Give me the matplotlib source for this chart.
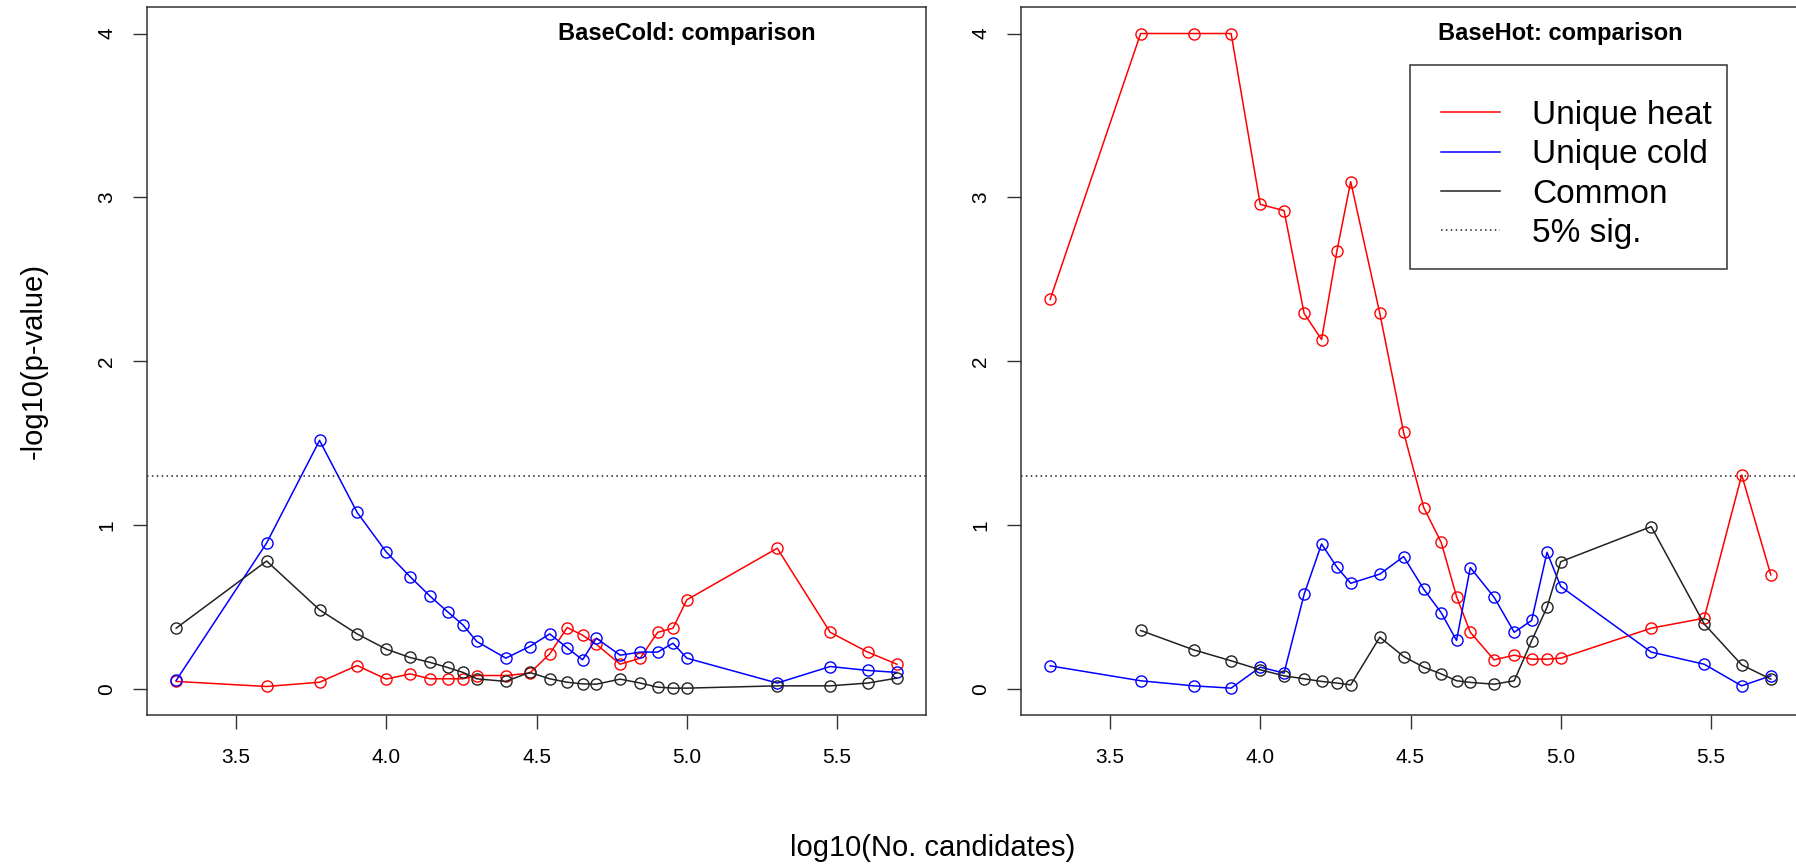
import numpy as np
import matplotlib
matplotlib.use("Agg")
import matplotlib.pyplot as plt
from matplotlib.patches import Rectangle

plt.rcParams['font.family'] = ['Liberation Sans', 'DejaVu Sans']

# number of candidates (x axis is log10 of these)
candidates = [2000, 4000, 6000, 8000, 10000, 12000, 14000, 16000, 18000, 20000,
              25000, 30000, 35000, 40000, 45000, 50000, 60000, 70000, 80000, 90000,
              100000, 200000, 300000, 400000, 500000]

# BaseCold panel, -log10(p)
cold_heat = [0.045, 0.014, 0.04, 0.142, 0.059, 0.091, 0.061, 0.061, 0.061, 0.081,
             0.081, 0.095, 0.213, 0.374, 0.327, 0.272, 0.15, 0.187, 0.345, 0.37,
             0.543, 0.858, 0.345, 0.224, 0.15]
cold_cold = [0.051, 0.89, 1.516, 1.077, 0.835, 0.685, 0.565, 0.47, 0.39, 0.289,
             0.187, 0.258, 0.335, 0.25, 0.177, 0.309, 0.205, 0.224, 0.224, 0.278,
             0.187, 0.035, 0.136, 0.112, 0.10]
cold_common = [0.37, 0.78, 0.482, 0.335, 0.242, 0.191, 0.161, 0.13, 0.10, 0.061,
               0.045, 0.10, 0.061, 0.04, 0.03, 0.028, 0.059, 0.035, 0.01, 0.004,
               0.004, 0.018, 0.018, 0.035, 0.065]

# BaseHot panel
hot_heat = [2.377, 4.0, 4.0, 4.0, 2.957, 2.919, 2.291, 2.132, 2.674, 3.096,
            2.291, 1.565, 1.106, 0.894, 0.563, 0.345, 0.177, 0.205, 0.181, 0.181,
            0.187, 0.37, 0.431, 1.305, 0.695]
hot_cold = [0.14, 0.049, 0.018, 0.004, 0.132, 0.096, 0.577, 0.884, 0.742, 0.644,
            0.70, 0.807, 0.608, 0.465, 0.295, 0.74, 0.559, 0.345, 0.417, 0.833,
            0.624, 0.224, 0.15, 0.018, 0.079]
hot_common = [np.nan, 0.356, 0.238, 0.171, 0.116, 0.079, 0.061, 0.045, 0.035, 0.024,
              0.315, 0.197, 0.132, 0.091, 0.049, 0.039, 0.028, 0.049, 0.293, 0.498,
              0.776, 0.99, 0.396, 0.146, 0.059]

panels = [("BaseCold: comparison", cold_heat, cold_cold, cold_common),
          ("BaseHot: comparison", hot_heat, hot_cold, hot_common)]
sig = -np.log10(0.05)

x = np.log10(candidates)

fig = plt.figure(figsize=(17.96, 8.66), dpi=100)
W, H = 1796, 866
lefts = [147, 1021]
for i, (title, heat, cold, common) in enumerate(panels):
    ax = fig.add_axes([lefts[i] / W, 1 - 715 / H, 779 / W, 707.7 / H])
    kw = dict(marker='o', markersize=8, markerfacecolor='none', markeredgewidth=1.0, lw=1.1)
    ax.plot(x, heat, color='red', label='Unique heat', **kw)
    ax.plot(x, cold, color='blue', label='Unique cold', **kw)
    ax.plot(x, common, color='#222222', label='Common', **kw)
    ax.axhline(sig, color='#222222', lw=1.1, ls=(0, (1, 2.2)), label='5% sig.')
    ax.set_xlim(3.204, 5.796)
    ax.set_ylim(-0.16, 4.16)
    ax.set_xticks([3.5, 4.0, 4.5, 5.0, 5.5])
    ax.set_xticklabels(['3.5', '4.0', '4.5', '5.0', '5.5'])
    ax.set_yticks([0, 1, 2, 3, 4])
    ax.tick_params(axis='both', length=10, width=1, color='#333333', labelsize=15)
    ax.tick_params(axis='x', pad=14)
    ax.tick_params(axis='y', pad=12)
    for lab in ax.get_yticklabels():
        lab.set_rotation(90)
        lab.set_va('center')
    for s in ax.spines.values():
        s.set_color('#333333')
        s.set_linewidth(1.1)
    ax.text(5.0, 4.0, title, ha='center', va='center', fontsize=17, fontweight='bold')
    if i == 1:
        leg = ax.legend(loc='upper left', bbox_to_anchor=(0.539, 0.869), fontsize=24,
                        frameon=False, borderpad=0, borderaxespad=0,
                        handlelength=1.77, handletextpad=0.96, labelspacing=0.25)
        for h in leg.get_lines():
            h.set_marker('')
        ax.add_patch(Rectangle((0.4994, 0.6302), 0.9063 - 0.4994, 0.9185 - 0.6302,
                               transform=ax.transAxes, fill=False, edgecolor='#333333',
                               lw=1.1, zorder=5))

fig.text(34 / W, 1 - 361 / H, '-log10(p-value)', rotation=90, ha='center', va='center', fontsize=21)
fig.text(933 / W, 1 - 848 / H, 'log10(No. candidates)', ha='center', va='center', fontsize=21)

fig.savefig('out.png', dpi=100)
